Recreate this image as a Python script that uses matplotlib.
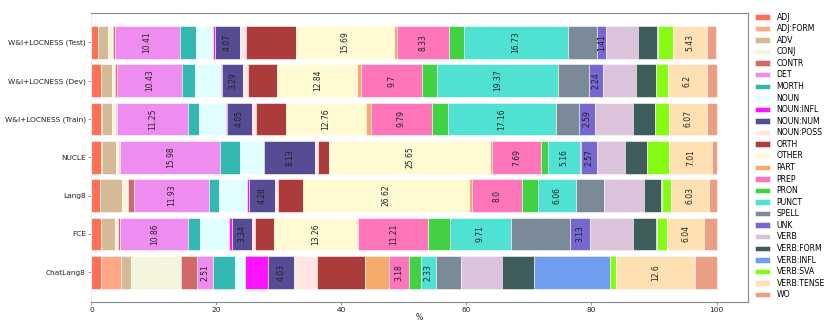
import numpy as np
import matplotlib

matplotlib.use("Agg")
import matplotlib.pyplot as plt

# error categories (stack order, left to right)
categories = ["ADJ", "ADJ:FORM", "ADV", "CONJ", "CONTR", "DET", "MORTH", "NOUN",
              "NOUN:INFL", "NOUN:NUM", "NOUN:POSS", "ORTH", "OTHER", "PART",
              "PREP", "PRON", "PUNCT", "SPELL", "UNK", "VERB", "VERB:FORM",
              "VERB:INFL", "VERB:SVA", "VERB:TENSE", "WO"]
colors = ["tomato", "lightsalmon", "tan", "beige", "indianred", "violet",
          "lightseagreen", "lightcyan", "magenta", "darkslateblue", "mistyrose",
          "brown", "lemonchiffon", "sandybrown", "hotpink", "limegreen",
          "turquoise", "slategray", "slateblue", "thistle", "darkslategray",
          "cornflowerblue", "lawngreen", "navajowhite", "darksalmon"]

# bottom -> top
datasets = ["ChatLang8", "FCE", "Lang8", "NUCLE", "W&I+LOCNESS (Train)",
            "W&I+LOCNESS (Dev)", "W&I+LOCNESS (Test)"]

# % of edits per category, same order as `categories`
chatlang8 = [1.5, 3.3, 1.5, 8.1, 2.56, 2.51, 3.57, 1.6, 3.68, 4.03, 3.79, 7.57,
             0.0, 3.84, 3.18, 2.03, 2.33, 4.0, 0.0, 6.56, 5.17, 12.1, 1.0, 12.6, 3.5]
fce = [1.5, 0.05, 2.24, 0.53, 0.32, 10.86, 1.92, 4.53, 0.48, 3.34, 0.48, 2.93,
       13.26, 0.26, 11.21, 3.47, 9.71, 9.55, 3.13, 6.93, 3.62, 0.1, 1.6, 6.04, 1.94]
lang8 = [1.33, 0.05, 3.47, 0.96, 1.07, 11.93, 1.6, 4.53, 0.2, 4.28, 0.43, 3.95,
         26.62, 0.43, 8.0, 2.56, 6.06, 4.48, 0.0, 6.46, 2.66, 0.15, 1.55, 6.03, 1.2]
nucle = [1.6, 0.05, 2.3, 0.53, 0.16, 15.98, 3.1, 3.84, 0.1, 8.13, 0.53, 1.76,
         25.65, 0.43, 7.69, 1.2, 5.16, 0.15, 2.57, 4.37, 3.52, 0.05, 3.47, 7.01, 0.65]
train = [1.6, 0.05, 1.7, 0.53, 0.27, 11.25, 1.8, 4.3, 0.15, 4.05, 0.6, 4.8,
         12.76, 0.8, 9.79, 2.67, 17.16, 3.73, 2.59, 5.97, 3.58, 0.05, 2.24, 6.07, 1.5]
dev = [1.5, 0.05, 1.7, 0.5, 0.35, 10.43, 2.08, 4.16, 0.15, 3.29, 0.9, 4.6,
       12.84, 0.64, 9.7, 2.35, 19.37, 5.0, 2.24, 5.3, 3.1, 0.05, 1.9, 6.2, 1.6]
test = [1.06, 0.05, 1.6, 0.8, 0.2, 10.41, 2.56, 2.77, 0.25, 4.07, 1.0, 7.9,
        15.69, 0.45, 8.33, 2.4, 16.73, 4.6, 1.41, 5.1, 3.1, 0.1, 2.45, 5.43, 1.5]

labelled = ["DET", "NOUN:NUM", "OTHER", "PREP", "PUNCT", "UNK", "VERB:TENSE"]

values = np.array([chatlang8, fce, lang8, nucle, train, dev, test])
ypos = np.arange(len(datasets))

fig = plt.figure(figsize=(8.31, 3.21), dpi=100)
ax = fig.add_axes([0.110, 0.060, 0.790, 0.900])

left = np.zeros(len(datasets))
for j, (cat, col) in enumerate(zip(categories, colors)):
    w = values[:, j]
    ax.barh(ypos, w, left=left, height=0.85, color=col, alpha=0.92,
            edgecolor="white", linewidth=0.4, label=cat)
    if cat in labelled:
        for y, l, v in zip(ypos, left, w):
            if v > 0:
                ax.text(l + v / 2, y, str(round(v, 2)), rotation=90,
                        ha="center", va="center", fontsize=5.5, color="#222222")
    left += w

ax.set_yticks(ypos)
ax.set_yticklabels(datasets)
ax.set_xticks([0, 20, 40, 60, 80, 100])
ax.set_xlabel("%", fontsize=5.5, color="#222222")
ax.xaxis.set_label_coords(0.5, -0.04)
ax.tick_params(labelsize=5.3, colors="#888888", labelcolor="#222222",
               length=2.5, width=0.6, pad=1.5)
for side in ["top", "right", "bottom"]:
    ax.spines[side].set_color("#888888")
    ax.spines[side].set_linewidth(0.8)
ax.spines["left"].set_color("#eeeeee")

ax.legend(loc="upper left", bbox_to_anchor=(1.0, 1.025), frameon=False,
          fontsize=5.6, borderaxespad=0.5, labelspacing=0.33)

fig.savefig("out.png", dpi=100)
